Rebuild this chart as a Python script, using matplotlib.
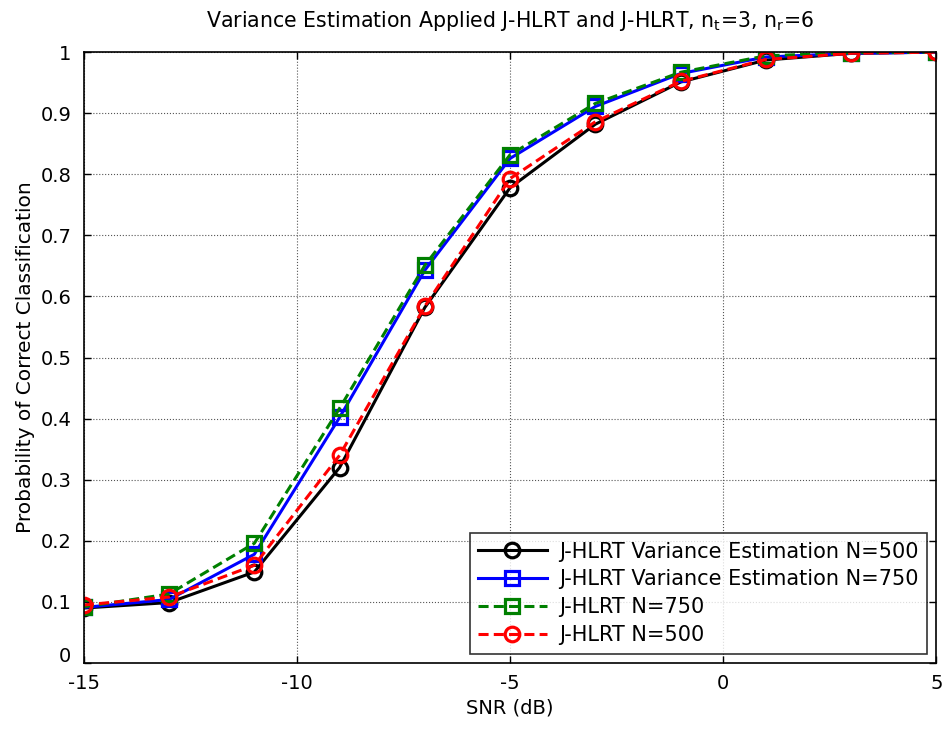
import matplotlib
matplotlib.use("Agg")
import matplotlib.pyplot as plt
from matplotlib.transforms import ScaledTranslation

plt.rcParams["font.family"] = ["DejaVu Sans"]

snr_db = [-15, -13, -11, -9, -7, -5, -3, -1, 1, 3, 5]

# probability of correct classification per curve
ve_n500 = [0.090, 0.099, 0.149, 0.320, 0.582, 0.778, 0.882, 0.951, 0.987, 0.998, 1.0]
ve_n750 = [0.091, 0.104, 0.178, 0.402, 0.643, 0.826, 0.911, 0.965, 0.992, 0.998, 1.0]
hlrt_n750 = [0.092, 0.113, 0.196, 0.417, 0.651, 0.832, 0.916, 0.967, 0.994, 0.999, 1.0]
hlrt_n500 = [0.095, 0.108, 0.160, 0.340, 0.584, 0.793, 0.886, 0.952, 0.988, 0.998, 1.0]

labels = [
    "J-HLRT Variance Estimation N=500",
    "J-HLRT Variance Estimation N=750",
    "J-HLRT N=750",
    "J-HLRT N=500",
]

fig = plt.figure(figsize=(9.42, 7.29), dpi=100)
ax = fig.add_axes([0.089, 0.0905, 0.905, 0.838])

common = dict(linewidth=2.2, markersize=10.5, markeredgewidth=2.3, markerfacecolor="none")
ax.plot(snr_db, ve_n500, "-o", color="black", label=labels[0], **common)
ax.plot(snr_db, ve_n750, "-s", color="#0000ff", label=labels[1], **common)
ax.plot(snr_db, hlrt_n750, "--s", color="#008000", label=labels[2], dashes=(3.3, 1.7), **common)
ax.plot(snr_db, hlrt_n500, "--o", color="#ff0000", label=labels[3], dashes=(3.3, 1.7), **common)

ax.set_xlim(-15, 5)
ax.set_ylim(0, 1)
ax.set_xticks([-15, -10, -5, 0, 5])
ax.set_xticklabels(["-15", "-10", "-5", "0", "5"])
ax.set_yticks([0, 0.1, 0.2, 0.3, 0.4, 0.5, 0.6, 0.7, 0.8, 0.9, 1])
ax.set_yticklabels(["0", "0.1", "0.2", "0.3", "0.4", "0.5", "0.6", "0.7", "0.8", "0.9", "1"])
ax.tick_params(direction="in", top=True, right=True, labelsize=14, length=5, width=1)
ax.tick_params(axis="x", pad=8)
ax.tick_params(axis="y", pad=9)
ax.grid(True, color="#555555", linestyle=":", linewidth=0.8)
for sp in ax.spines.values():
    sp.set_linewidth(1.2)

# lift the "0" label a bit so it clears "-15", as in the original
zero_lbl = ax.get_yticklabels()[0]
zero_lbl.set_transform(zero_lbl.get_transform() + ScaledTranslation(0, 6 / 72, fig.dpi_scale_trans))

ax.set_xlabel("SNR (dB)", fontsize=14, labelpad=4)
ax.set_ylabel("Probability of Correct Classification", fontsize=14.5, labelpad=4)
ax.set_title(r"Variance Estimation Applied J-HLRT and J-HLRT, n$_\mathregular{t}$=3, n$_\mathregular{r}$=6",
             fontsize=14.8, pad=18)

leg = ax.legend(loc="lower right", fontsize=15, frameon=True, fancybox=False,
                edgecolor="black", borderaxespad=0.45, handlelength=3.3,
                labelspacing=0.38, borderpad=0.4, handletextpad=0.6)
leg.get_frame().set_linewidth(1.2)

fig.savefig("out.png", dpi=100)
